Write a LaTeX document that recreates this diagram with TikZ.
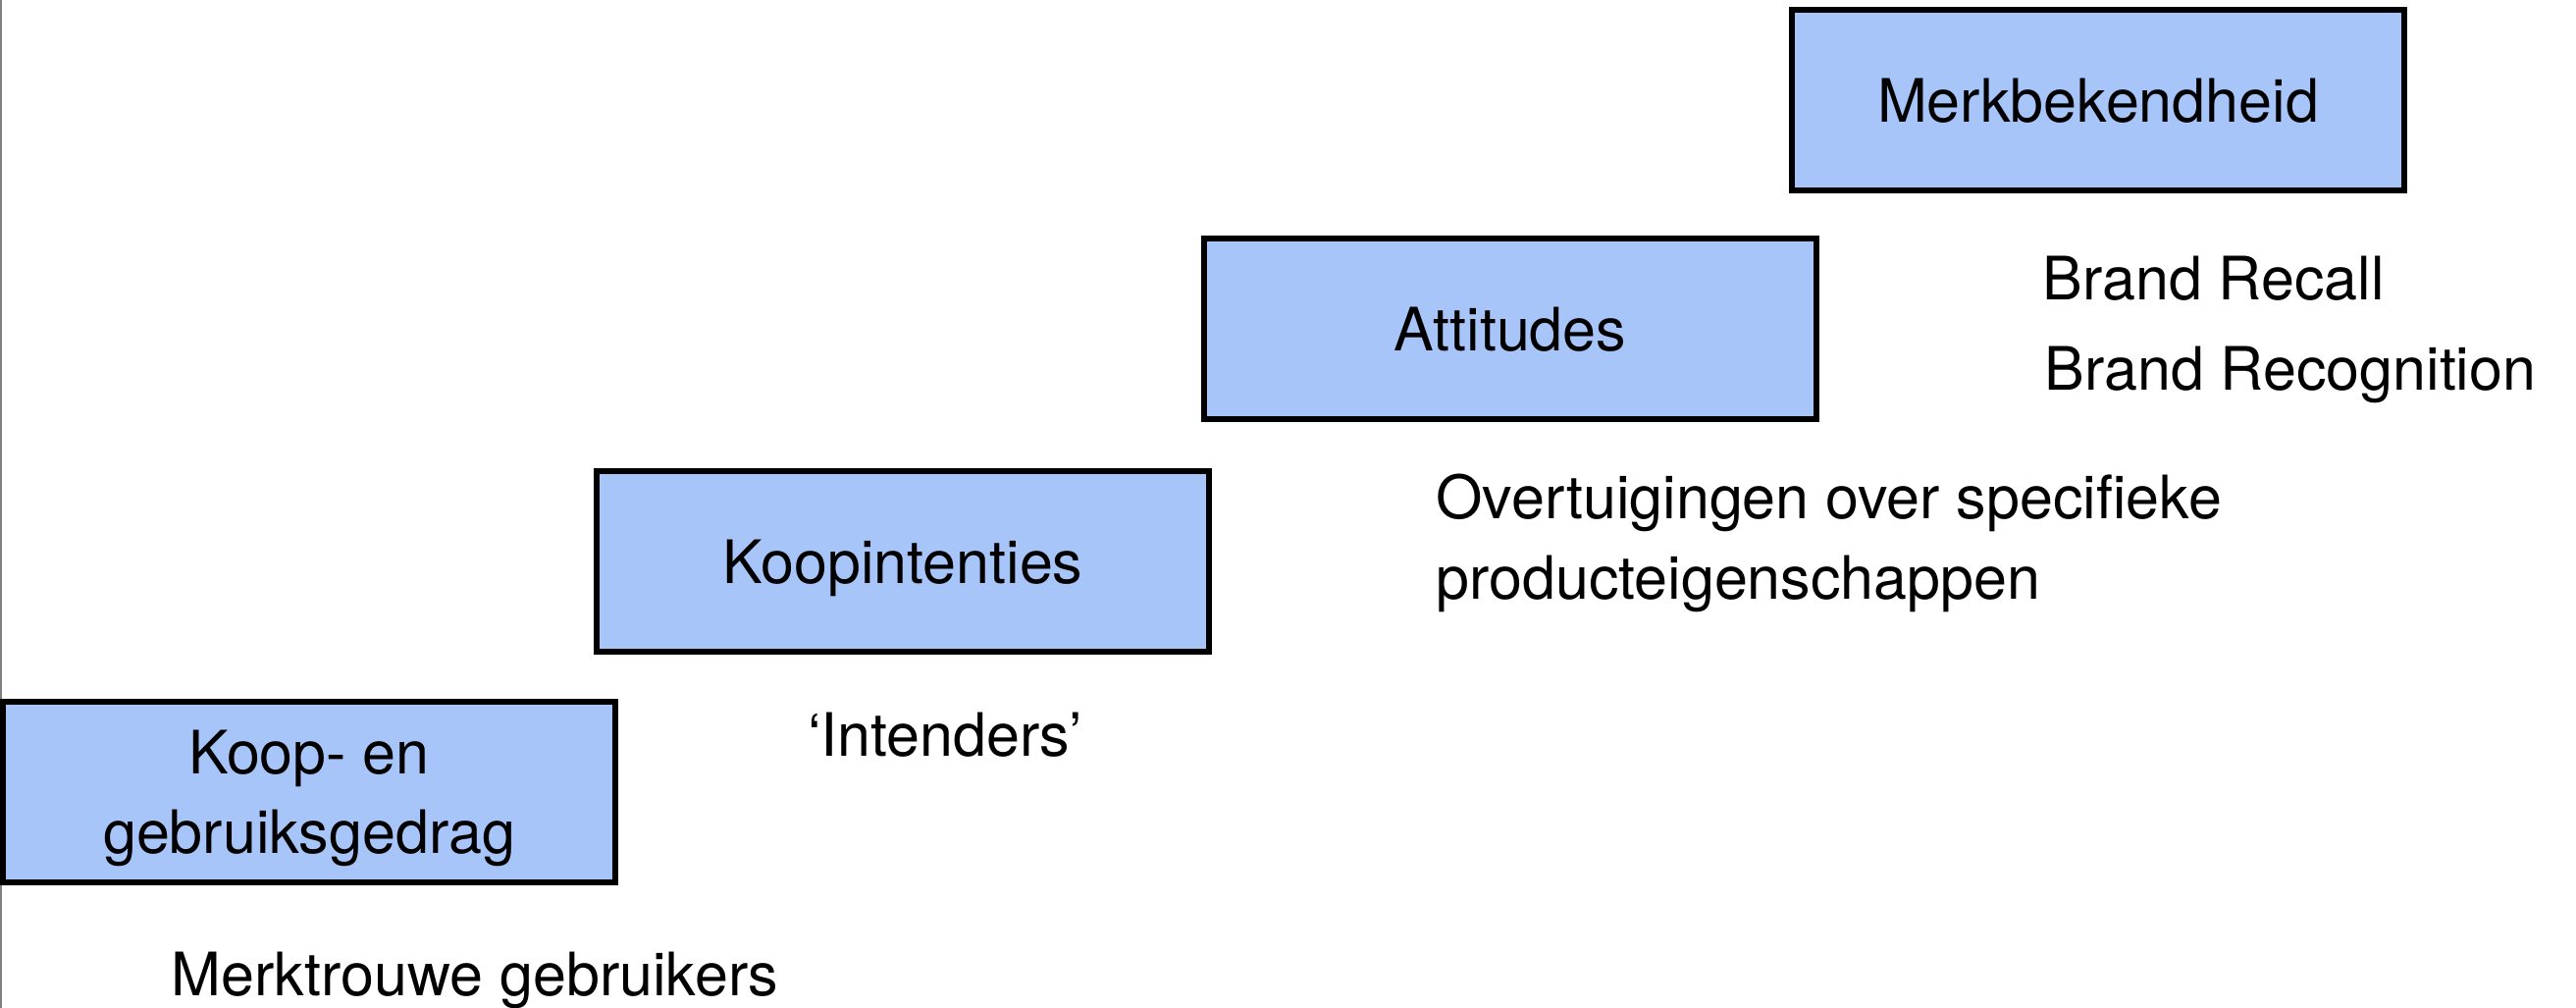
\documentclass[tikz,border=0pt]{standalone}
\usepackage{fontspec}
\setmainfont{TeX Gyre Heros}
\definecolor{stepblue}{RGB}{168,197,250}
\begin{document}
\begin{tikzpicture}[x=0.5pt,y=-0.5pt,
  stage/.style={draw=black, line width=2.8pt, fill=stepblue,
    minimum width=312pt, minimum height=92pt, inner sep=0pt,
    align=center, text depth=0pt, font=\fontsize{30.5}{40.5}\selectfont},
  note/.style={anchor=base west, inner sep=0pt, align=left,
    font=\fontsize{30.5}{41}\selectfont}]
  % canvas
  \useasboundingbox (0,0) rectangle (2625,1027);
  \fill[white] (0,0) rectangle (2625,1027);
  \draw[gray, line width=1.2pt] (1,0) -- (1,1027);

  % the four stages, stepping up to the right
  \node[stage] (merk) at (2138,102) {Merkbekendheid};
  \node[stage] (att)  at (1539,335) {Attitudes};
  \node[stage] (koopi) at (920,572) {Koopintenties};
  \node[stage] (koopg) at (315,807) {Koop- en\\gebruiksgedrag};

  % notes beneath each stage (base anchor sits on the last line)
  \node[note] (recall) at (2081,306) {Brand Recall};
  \node[note] (recog)  at (2083,398) {Brand Recognition};
  \node[note] (overt)  at (1463,610) {Overtuigingen over specifieke\\producteigenschappen};
  \node[note, anchor=base] (intend) at (963,770) {‘Intenders’};
  \node[note] (trouw)  at (174,1014) {Merktrouwe gebruikers};
\end{tikzpicture}
\end{document}
